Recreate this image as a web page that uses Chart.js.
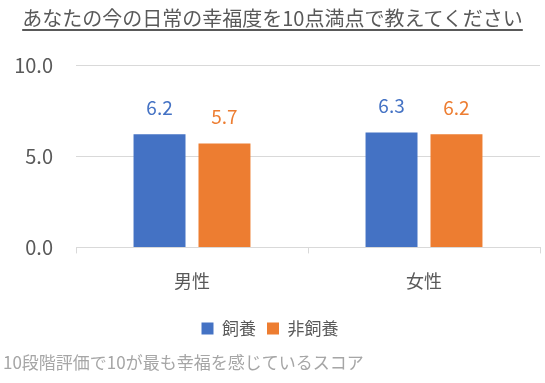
<!DOCTYPE html>
<html>
<head>
<meta charset="utf-8">
<script src="https://cdn.jsdelivr.net/npm/chart.js@4/dist/chart.umd.min.js"></script>
<style>
  body { margin: 0; background: #fff; font-family: "Noto Sans CJK JP", sans-serif; }
  #wrap { position: relative; width: 545px; height: 383px; }
  #title { position: absolute; top: 3px; left: 0; width: 545px; text-align: center;
           font-size: 20px; color: #595959; text-decoration: underline; text-underline-offset: 3px; }
  #note { position: absolute; left: 3px; top: 349px; font-size: 17px; color: #A6A6A6; }
  canvas { position: absolute; left: 0; top: 0; }
</style>
</head>
<body>
<div id="wrap">
  <canvas id="myChart" width="545" height="383"></canvas>
  <div id="title">あなたの今の日常の幸福度を10点満点で教えてください</div>
  <div id="note">10段階評価で10が最も幸福を感じているスコア</div>
</div>
<script>
const categories = ['男性', '女性'];
const seriesNames = ['飼養', '非飼養'];
const kept = [6.2, 6.3];
const notKept = [5.7, 6.2];
const yTicks = [0, 5, 10];

const valueLabels = {
  id: 'valueLabels',
  afterDatasetsDraw(chart) {
    const ctx = chart.ctx;
    chart.data.datasets.forEach((ds, i) => {
      const meta = chart.getDatasetMeta(i);
      meta.data.forEach((bar, j) => {
        ctx.save();
        ctx.fillStyle = ds.backgroundColor;
        ctx.font = '19px "Noto Sans CJK JP"';
        ctx.textAlign = 'center';
        ctx.textBaseline = 'bottom';
        ctx.fillText(ds.data[j].toFixed(1), bar.x, bar.y - 17);
        ctx.restore();
      });
    });
  }
};

const data = {
  labels: categories,
  datasets: [
    { label: seriesNames[0], data: kept, backgroundColor: '#4472C4' },
    { label: seriesNames[1], data: notKept, backgroundColor: '#ED7D31' }
  ]
};

const config = {
  type: 'bar',
  data: data,
  options: {
    responsive: false,
    animation: false,
    layout: { padding: { top: 65, left: 0, right: 5, bottom: 36 } },
    datasets: { bar: { categoryPercentage: 0.56, barPercentage: 0.8 } },
    plugins: {
      legend: {
        position: 'bottom',
        labels: { boxWidth: 12, boxHeight: 12, color: '#595959', padding: 11,
                  font: { size: 17, family: '"Noto Sans CJK JP"' } }
      },
      tooltip: { enabled: false }
    },
    scales: {
      x: {
        grid: { offset: true, drawOnChartArea: false, drawTicks: true, tickLength: 6, color: '#D9D9D9' },
        border: { display: true, color: '#D9D9D9' },
        ticks: { color: '#595959', padding: 17, font: { size: 18, family: '"Noto Sans CJK JP"' } }
      },
      y: {
        min: 0, max: 10,
        afterBuildTicks: (axis) => { axis.ticks = yTicks.map(v => ({ value: v })); },
        afterFit: (axis) => { axis.width = 76; },
        grid: { color: '#D9D9D9', drawTicks: false },
        border: { display: false },
        ticks: { color: '#595959', padding: 23, callback: (v) => Number(v).toFixed(1),
                 font: { size: 20, family: '"Noto Sans CJK JP"' } }
      }
    }
  },
  plugins: [valueLabels]
};

const myChart = new Chart(document.getElementById('myChart'), config);
</script>
</body>
</html>
